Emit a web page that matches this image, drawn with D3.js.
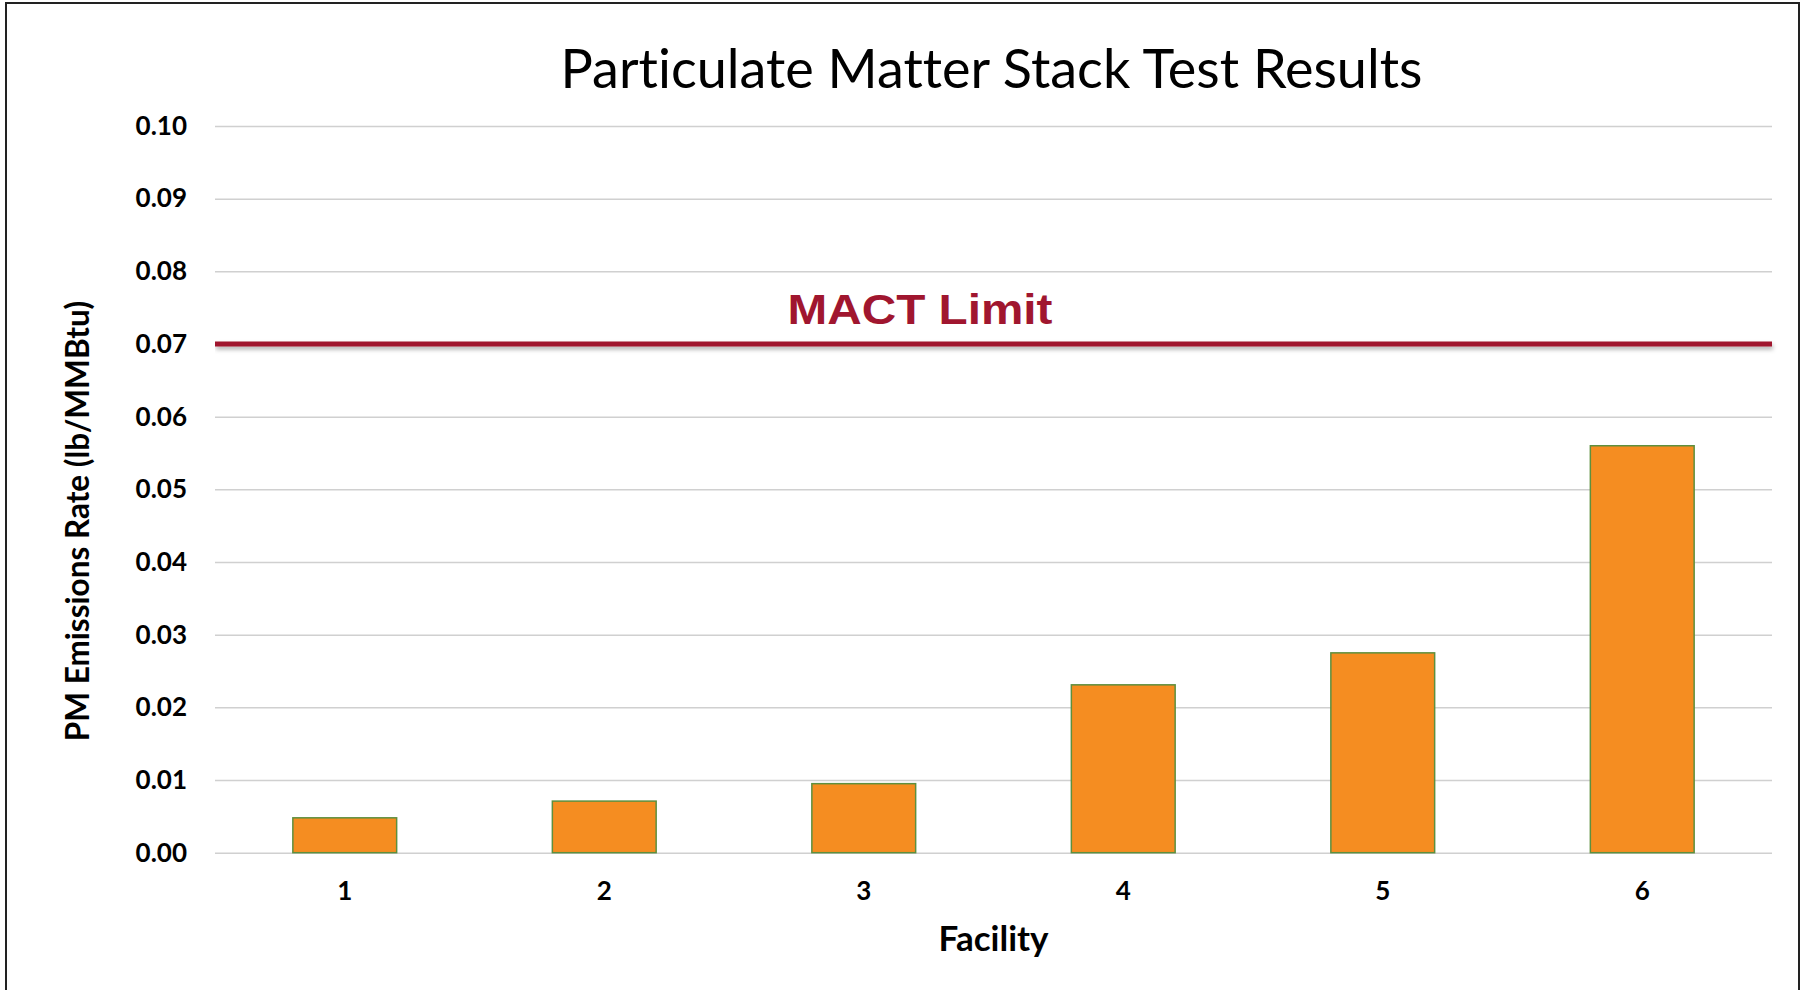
<!DOCTYPE html>
<html>
<head>
<meta charset="utf-8">
<script src="https://cdn.jsdelivr.net/npm/d3@7"></script>
<style>
  body { margin: 0; background: #fff; }
  svg text { font-variant-ligatures: none; }
  .grid line { stroke: #d0d0d0; stroke-width: 1.5px; }
  .axis text { font-family: Lato, "Open Sans", sans-serif; font-weight: bold; font-size: 26px; fill: #000; }
</style>
</head>
<body>
<div class="chart"></div>
<script>
// facility numbers and PM emission rates (lb/MMBtu)
const facilities = ["1", "2", "3", "4", "5", "6"];
const pmRates = [0.0048, 0.0071, 0.0095, 0.0231, 0.0275, 0.0560];
const yTicks = [0, 0.01, 0.02, 0.03, 0.04, 0.05, 0.06, 0.07, 0.08, 0.09, 0.10];
const mactLimit = 0.07;

const data = facilities.map((f, i) => ({ facility: f, rate: pmRates[i] }));

const W = 1802, H = 990;
const margin = ({top: 126, right: 30, bottom: 137.3, left: 215});
const width = W - margin.left - margin.right,
    height = H - margin.top - margin.bottom;

const svg = d3.select(".chart")
    .append("svg")
    .attr("width", W)
    .attr("height", H);

// drop shadow for the limit line (user space, a flat line has no bbox height)
const defs = svg.append("defs");
defs.append("filter")
    .attr("id", "shadow")
    .attr("filterUnits", "userSpaceOnUse")
    .attr("x", 0).attr("y", 0)
    .attr("width", W).attr("height", H)
    .append("feDropShadow")
    .attr("dx", 1).attr("dy", 3)
    .attr("stdDeviation", 2)
    .attr("flood-color", "#000")
    .attr("flood-opacity", 0.3);

// outer frame
svg.append("rect")
    .attr("x", 6).attr("y", 3)
    .attr("width", 1793).attr("height", 1000)
    .attr("fill", "none")
    .attr("stroke", "#222")
    .attr("stroke-width", 2);

const g = svg.append("g")
    .attr("transform", "translate(" + margin.left + "," + margin.top + ")");

// scales
const xScale = d3.scaleBand()
    .domain(facilities)
    .range([0, width])
    .paddingInner(0.6)
    .paddingOuter(0.3);

const yScale = d3.scaleLinear()
    .domain([0, 0.1])
    .range([height, 0]);

// gridlines + y labels
const yAxis = d3.axisLeft(yScale)
    .tickValues(yTicks)
    .tickFormat(d3.format(".2f"))
    .tickSize(-width)
    .tickPadding(28);

g.append("g")
    .attr("class", "axis grid")
    .call(yAxis)
    .call(s => s.select(".domain").remove());

// bars
g.selectAll(".bar")
    .data(data)
    .join("rect")
    .attr("class", "bar")
    .attr("x", d => xScale(d.facility))
    .attr("y", d => yScale(d.rate))
    .attr("width", xScale.bandwidth())
    .attr("height", d => height - yScale(d.rate))
    .attr("fill", "#f58d21")
    .attr("stroke", "#5e8f3e")
    .attr("stroke-width", 1.5);

// x axis
const xAxis = d3.axisBottom(xScale)
    .tickSize(0)
    .tickPadding(29);

g.append("g")
    .attr("class", "axis x-axis")
    .attr("transform", "translate(0," + height + ")")
    .call(xAxis)
    .call(s => s.select(".domain").remove());

// MACT limit line
g.append("line")
    .attr("x1", 0)
    .attr("x2", width)
    .attr("y1", yScale(mactLimit))
    .attr("y2", yScale(mactLimit))
    .attr("stroke", "#a0162f")
    .attr("stroke-width", 5)
    .attr("filter", "url(#shadow)");

g.append("text")
    .attr("x", 920 - margin.left)
    .attr("y", yScale(mactLimit) - 20)
    .attr("text-anchor", "middle")
    .attr("font-family", "'Liberation Sans', Arial, sans-serif")
    .attr("font-weight", "bold")
    .attr("font-size", 42)
    .attr("textLength", 265)
    .attr("lengthAdjust", "spacingAndGlyphs")
    .attr("fill", "#a0162f")
    .text("MACT Limit");

// title
svg.append("text")
    .attr("x", margin.left + width / 2 - 2)
    .attr("y", 88)
    .attr("text-anchor", "middle")
    .attr("font-family", "Lato, sans-serif")
    .attr("font-size", 54)
    .attr("fill", "#000")
    .text("Particulate Matter Stack Test Results");

// axis titles
svg.append("text")
    .attr("x", margin.left + width / 2)
    .attr("y", 951)
    .attr("text-anchor", "middle")
    .attr("font-family", "Lato, sans-serif")
    .attr("font-weight", "bold")
    .attr("font-size", 35)
    .text("Facility");

svg.append("text")
    .attr("transform", "translate(89,521) rotate(-90)")
    .attr("text-anchor", "middle")
    .attr("font-family", "Lato, sans-serif")
    .attr("font-weight", "bold")
    .attr("font-size", 31.5)
    .text("PM Emissions Rate (lb/MMBtu)");
</script>
</body>
</html>
